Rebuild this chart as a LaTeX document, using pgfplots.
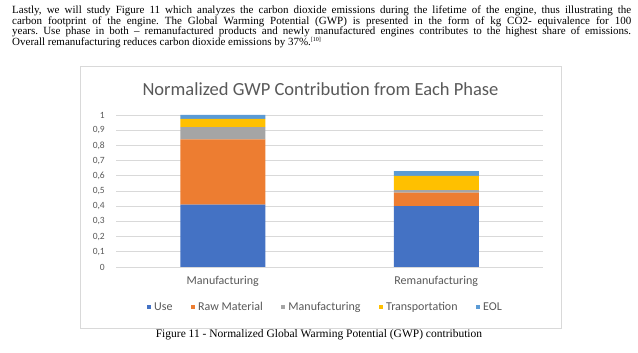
\documentclass[border=0pt]{standalone}
\usepackage{pgfplots}
\pgfplotsset{compat=1.18}
\usepackage{fontspec}
\setmainfont{Liberation Serif}
\newfontfamily\chartfont{Carlito}
\frenchspacing
\definecolor{cUse}{HTML}{4472C4}
\definecolor{cRaw}{HTML}{ED7D31}
\definecolor{cMan}{HTML}{A5A5A5}
\definecolor{cTra}{HTML}{FFC000}
\definecolor{cEol}{HTML}{5B9BD5}
\definecolor{txt}{HTML}{595959}
\definecolor{gridc}{HTML}{D9D9D9}
\begin{document}
\begin{tikzpicture}
\path[use as bounding box, fill=white] (0,0) rectangle (638pt,353pt);
% paragraph
\begin{scope}[every node/.style={anchor=base west, inner sep=0pt, font=\fontsize{11}{12}\selectfont}]
\node at (12pt,339.7pt) {\makebox[619pt][s]{Lastly, we will study Figure 11 which analyzes the carbon dioxide emissions during the lifetime of the engine, thus illustrating the}};
\node at (12pt,328.8pt) {\makebox[619pt][s]{carbon footprint of the engine. The Global Warming Potential (GWP) is presented in the form of kg CO2- equivalence for 100}};
\node at (12pt,318pt) {\makebox[619pt][s]{years. Use phase in both -- remanufactured products and newly manufactured engines contributes to the highest share of emissions.}};
\node at (12pt,307.2pt) {Overall remanufacturing reduces carbon dioxide emissions by 37\%.\textsuperscript{\fontsize{6}{6}\selectfont[10]}};
\end{scope}
% chart frame
\draw[gridc, line width=0.8pt] (80pt,25pt) rectangle (561pt,286.5pt);
% title
\node[anchor=base, inner sep=0pt, text=txt, font=\chartfont\fontsize{18.5}{20}\selectfont] at (320.5pt,257.3pt) {Normalized GWP Contribution from Each Phase};
% caption
\node[anchor=base, inner sep=0pt, font=\fontsize{11.5}{12}\selectfont] at (319pt,15.3pt) {Figure 11 - Normalized Global Warming Potential (GWP) contribution};
\begin{axis}[
  at={(116pt,86pt)}, anchor=south west,
  scale only axis, width=427pt, height=152pt,
  ybar stacked, bar width=85pt,
  xmin=0, xmax=2, ymin=0, ymax=1,
  xtick={0.5,1.5}, xticklabels={Manufacturing,Remanufacturing},
  ytick={0,0.1,0.2,0.3,0.4,0.5,0.6,0.7,0.8,0.9,1},
  major tick length=0pt,
  axis line style={draw=none},
  ymajorgrids, grid style={gridc, line width=0.7pt},
  yticklabel style={font=\chartfont\fontsize{9.5}{11}\selectfont, text=txt, inner sep=0pt, anchor=east, xshift=-11pt},
  xticklabel style={font=\chartfont\fontsize{12}{13}\selectfont, text=txt, inner sep=0pt, anchor=base, yshift=-17.3pt},
  /pgf/number format/.cd, use comma, fixed, precision=1, assume math mode=true,
  /pgfplots/.cd,
  legend columns=5,
  legend style={at={(0.49,-0.263)}, anchor=center, draw=none, fill=none,
    font=\chartfont\fontsize{12}{13}\selectfont, text=txt,
    /tikz/every even column/.append style={column sep=16pt},
    /tikz/every odd column/.append style={column sep=1pt}},
  legend image code/.code={\fill[#1] (0pt,-2.3pt) rectangle (4.6pt,2.3pt);},
  clip=false,
]
\addplot[fill=cUse, draw=none] coordinates {(0.5,0.41) (1.5,0.40)};
\addplot[fill=cRaw, draw=none] coordinates {(0.5,0.43) (1.5,0.09)};
\addplot[fill=cMan, draw=none] coordinates {(0.5,0.08) (1.5,0.015)};
\addplot[fill=cTra, draw=none] coordinates {(0.5,0.055) (1.5,0.095)};
\addplot[fill=cEol, draw=none] coordinates {(0.5,0.025) (1.5,0.03)};
\legend{Use,Raw Material,Manufacturing,Transportation,EOL}
\end{axis}
\end{tikzpicture}
\end{document}
